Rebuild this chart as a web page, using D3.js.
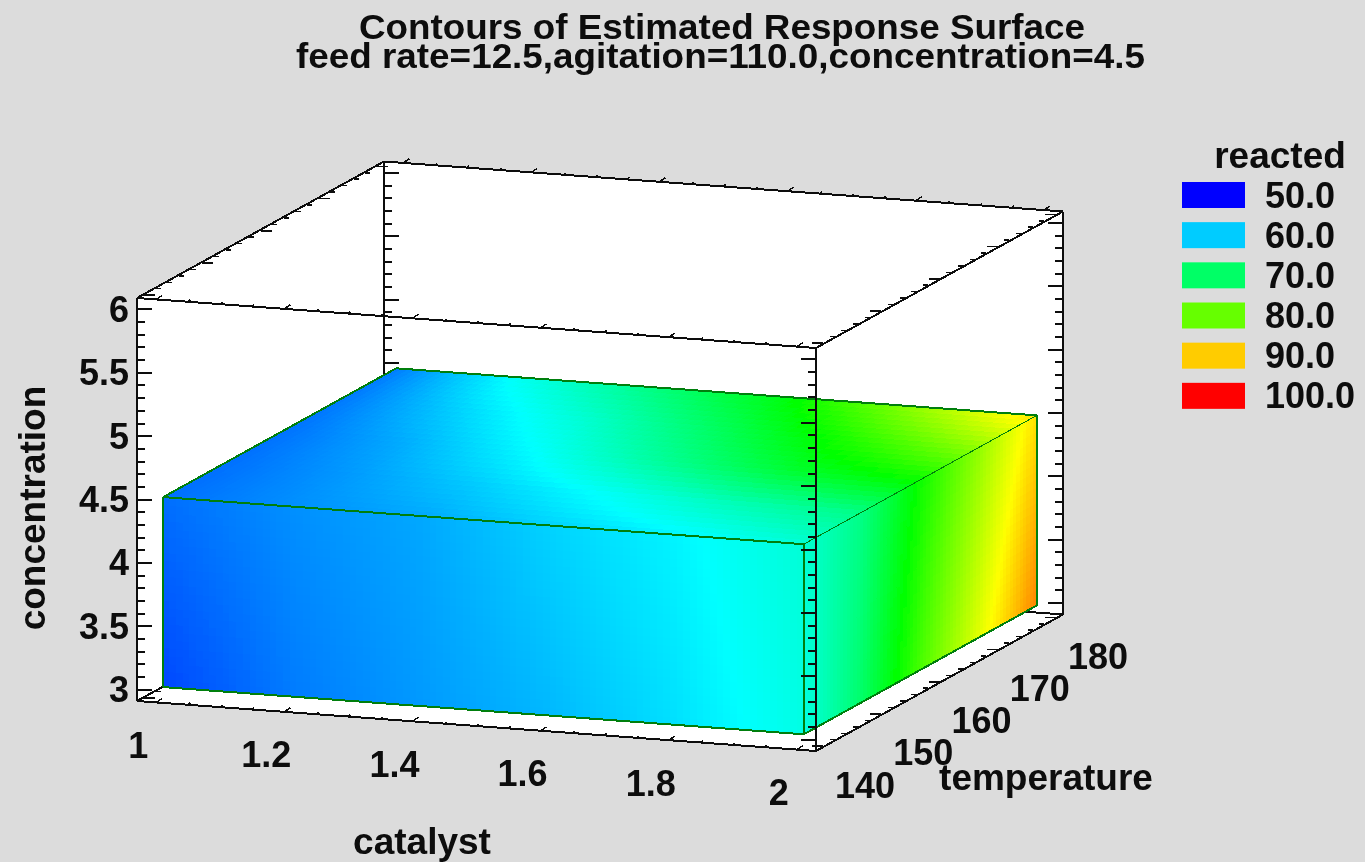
<!DOCTYPE html>
<html><head><meta charset="utf-8">
<script src="https://cdn.jsdelivr.net/npm/d3@7/dist/d3.min.js"></script>
<style>html,body{margin:0;padding:0;background:#dcdcdc;overflow:hidden}
text{font-family:"Liberation Sans",Arial,sans-serif;font-weight:bold;fill:#0a0a0a}</style>
</head><body><svg id="c" width="1365" height="862"><defs><filter id="soft" x="0" y="0" width="100%" height="100%"><feGaussianBlur stdDeviation="0.55"/></filter></defs></svg>
<script>
const titleLines = ["Contours of Estimated Response Surface","feed rate=12.5,agitation=110.0,concentration=4.5"];
const legendTitle = "reacted";
const legendValues = [50,60,70,80,90,100];
const colorStops = [50,62.5,75,87.5,100];
const colorRamp = ["#0000ff","#00ffff","#00ff00","#ffff00","#ff0000"];
const catalystTicks = [1,1.2,1.4,1.6,1.8,2];
const temperatureTicks = [140,150,160,170,180];
const concentrationTicks = [3,3.5,4,4.5,5,5.5,6];
const catalystGrid = [1,1.2,1.4,1.6,1.8,2];
const temperatureGrid = [140,150,160,170,180];
const concentrationGrid = [3,4.5];
// reacted: front face (catalyst by concentration)
const frontBottom = [53.5,56,57.5,59,61,63.8];
const frontTop = [55.4,57,58.2,60.3,62,64.5];
// top face (catalyst, one row per temperature)
const top140 = [55.4,57,58.2,60.3,62,64.5];
const top150 = [55.4,57.5,60,62.8,66,68.5];
const top160 = [55.5,58.5,62.5,67.5,72.5,75.5];
const top170 = [55.8,60.5,65,70.5,76.5,82];
const top180 = [56,63.2,68.5,74,81.5,89];
// right face (temperature by concentration)
const rightBottom = [63.8,70,78.5,86,93.6];
const rightTop = [64.5,68.5,75.5,82,89];

const svg = d3.select("#c");
const catS = d3.scaleLinear().domain([0.97,2.03]).range([0,679]);
const tempS = d3.scaleLinear().domain([138.8,181.2]).range([0,1]);
const concS = d3.scaleLinear().domain([2.91,6.09]).range([0,403]);
const color = d3.scaleLinear().domain(colorStops).range(colorRamp);
const ox=137, oy=701, tvx=247, tvy=-136.5, cSlope=50/679;
const P=(c,t,z)=>{const a=catS(c),b=tempS(t),h=concS(z);return [ox+a+b*tvx, oy+a*cSlope+b*tvy-h];};
const [c0,c1]=catS.domain(),[t0,t1]=tempS.domain(),[z0,z1]=concS.domain();

const g=svg.append("g").attr("filter","url(#soft)");
const pathOf=pts=>"M"+pts.map(p=>p[0].toFixed(1)+","+p[1].toFixed(1)).join("L");
const line=(a,b,w=2,col="#111")=>g.append("path").attr("d",pathOf([a,b])).attr("stroke",col).attr("stroke-width",w).attr("fill","none").attr("shape-rendering","crispEdges");

g.append("rect").attr("width",1365).attr("height",862).attr("fill","#dcdcdc");
g.append("path").attr("d",pathOf([P(c0,t0,z0),P(c0,t0,z1),P(c0,t1,z1),P(c1,t1,z1),P(c1,t1,z0),P(c1,t0,z0)])+"Z").attr("fill","#fff");

// z ticks, minor every 0.1, major every 0.5
const zMinor=d3.range(30,61).map(d=>d/10);
function zTicks(c,t,dir){
  line(P(c,t,z0),P(c,t,z1));
  zMinor.forEach(z=>{const p=P(c,t,z);const maj=Math.abs(z*2-Math.round(z*2))<1e-6;
    line(p,[p[0]+dir*(maj?15:8),p[1]],2);});
}
function catTicks(t,z){
  line(P(c0,t,z),P(c1,t,z));
  d3.range(20,41).map(d=>d/20).forEach(c=>{const p=P(c,t,z);const maj=Math.abs(c*5-Math.round(c*5))<1e-6;
    line(p,[p[0]+(maj?6:2),p[1]-(maj?4:2)],1.5);});
}
function tempTicks(c,z,dir){
  line(P(c,t0,z),P(c,t1,z));
  d3.range(70,91).map(d=>d*2).forEach(t=>{const p=P(c,t,z);const maj=t%10===0;
    line([p[0],p[1]+(dir>0?1:-1)],[p[0]+dir*(maj?11:5),p[1]+(dir>0?1:-1)],1.5);});
}
// back of the box
zTicks(c0,t1,1); zTicks(c1,t1,-1);
line(P(c0,t1,z0),P(c1,t1,z0));
tempTicks(c0,z0,1);
catTicks(t1,z1);

// block faces
function face(colDomain,rowDomain,rows,corner,nc,nr){
  const val=(a,b)=>{const vs=rows.map(r=>d3.scaleLinear().domain(colDomain).range(r)(a));
    return d3.scaleLinear().domain(rowDomain).range(vs)(b);};
  const ca=d3.scaleLinear().domain([0,nc]).range(d3.extent(colDomain));
  const cb=d3.scaleLinear().domain([0,nr]).range(d3.extent(rowDomain));
  const cells=[];
  for(let i=0;i<nc;i++)for(let j=0;j<nr;j++)cells.push({i,j});
  g.append("g").selectAll("path").data(cells).join("path")
    .attr("d",d=>pathOf([corner(ca(d.i),cb(d.j)),corner(ca(d.i+1),cb(d.j)),corner(ca(d.i+1),cb(d.j+1)),corner(ca(d.i),cb(d.j+1))])+"Z")
    .each(function(d){const c=color(val(ca(d.i+.5),cb(d.j+.5)));d3.select(this).attr("fill",c).attr("stroke",c);})
    .attr("stroke-width",1).attr("shape-rendering","crispEdges");
}
const cA=catalystGrid[0],cB=catalystGrid[5],tA=temperatureGrid[0],tB=temperatureGrid[4],zA=concentrationGrid[0],zB=concentrationGrid[1];
face(catalystGrid,concentrationGrid,[frontBottom,frontTop],(c,z)=>P(c,tA,z),96,24);
face(catalystGrid,temperatureGrid,[top140,top150,top160,top170,top180],(c,t)=>P(c,t,zB),96,30);
face(temperatureGrid,concentrationGrid,[rightBottom,rightTop],(t,z)=>P(cB,t,z),70,24);

// block outlines
const green="#067f0a";
const edge=(a,b,w)=>g.append("path").attr("d",pathOf([a,b])).attr("stroke",green).attr("stroke-width",w).attr("fill","none").attr("shape-rendering","crispEdges");
edge(P(cA,tA,zA),P(cA,tA,zB),2);edge(P(cA,tA,zB),P(cB,tA,zB),2);edge(P(cA,tA,zA),P(cB,tA,zA),2);
edge(P(cA,tA,zB),P(cA,tB,zB),2);edge(P(cA,tB,zB),P(cB,tB,zB),2);edge(P(cB,tB,zB),P(cB,tB,zA),2);
edge(P(cB,tA,zA),P(cB,tB,zA),2);edge(P(cB,tA,zB),P(cB,tB,zB),1);edge(P(cB,tA,zA),P(cB,tA,zB),2);

// front of the box
zTicks(c0,t0,1); zTicks(c1,t0,-1);
catTicks(t0,z0); catTicks(t0,z1);
tempTicks(c0,z1,1); tempTicks(c1,z1,-1); tempTicks(c1,z0,-1);

// labels
const label=(x,y,s,size,anchor="middle",len=null)=>{const t=g.append("text").attr("x",x).attr("y",y).attr("font-size",size).attr("text-anchor",anchor).attr("dominant-baseline","central").text(s);
  if(len)t.attr("textLength",len).attr("lengthAdjust","spacingAndGlyphs");return t;};
label(722,26,titleLines[0],35,"middle",726);
label(720.5,55,titleLines[1],35,"middle",849);
concentrationTicks.forEach(z=>{const p=P(c0,t0,z);label(129,p[1],d3.format("")(z),36,"end");});
catalystTicks.forEach(c=>{const p=P(c,t0,z0);label(p[0]-18,p[1]+43,d3.format("")(c),36);});
temperatureTicks.forEach(t=>{const p=P(c1,t,z0);label(p[0]+42,p[1]+38,d3.format("")(t),36);});
label(422,841,"catalyst",37);
label(1046,777,"temperature",37);
label(0,0,"concentration",37).attr("transform","translate(32,508) rotate(-90)");
// legend
label(1280,155,legendTitle,37);
const legY=d3.scaleBand().domain(legendValues).range([175,416]);
legendValues.forEach(v=>{
  g.append("rect").attr("x",1182).attr("y",legY(v)+7).attr("width",63).attr("height",26).attr("fill",color(v));
  label(1265,legY(v)+20,d3.format(".1f")(v),36,"start");
});
</script></body></html>
